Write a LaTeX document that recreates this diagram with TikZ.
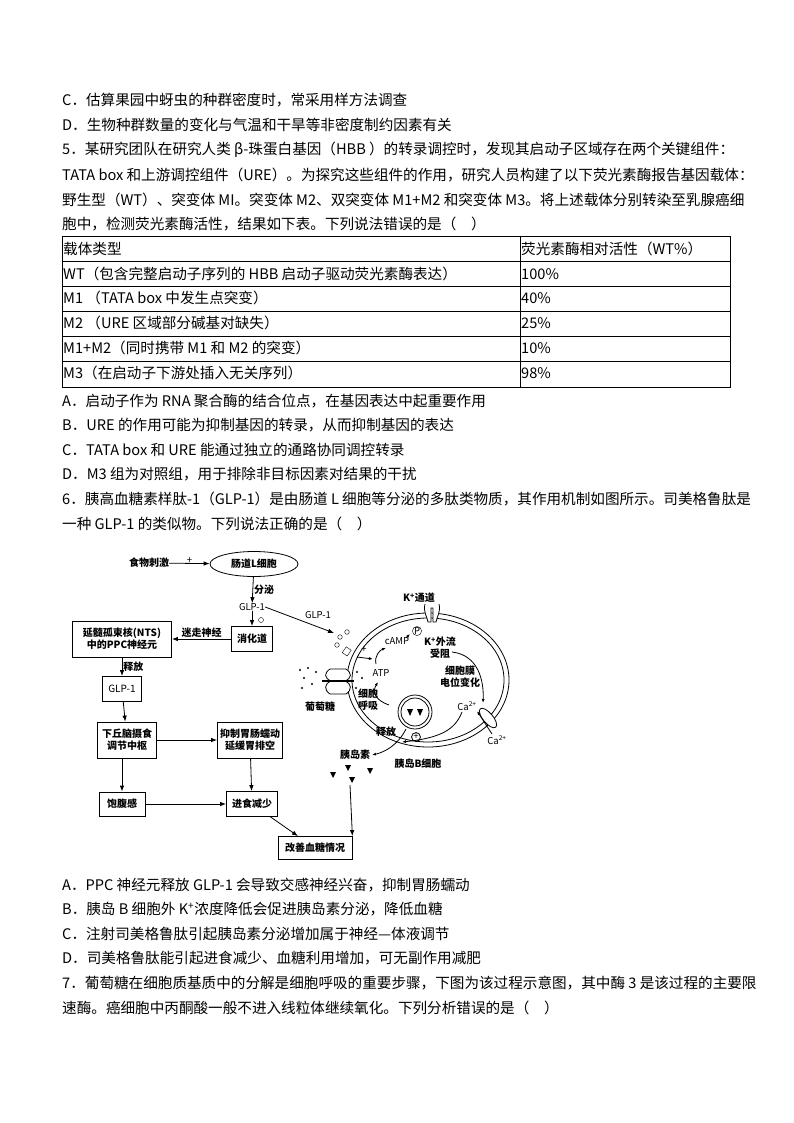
\documentclass[tikz,border=0pt]{standalone}
\usepackage{fontspec}
\setmainfont{Noto Sans CJK SC}
\usetikzlibrary{arrows.meta,shapes.geometric}
\begin{document}
\begin{tikzpicture}[x=1pt,y=-1pt,
  txt/.style={anchor=west,inner sep=0pt,font=\fontsize{14.6}{15}\selectfont},
  cell/.style={anchor=west,inner sep=0pt,font=\fontsize{14.6}{15}\selectfont},
  bx/.style={draw,thick,align=center,inner sep=2pt,font=\fontsize{10}{12}\selectfont\bfseries},
  lb/.style={inner sep=0pt,font=\fontsize{9.5}{11}\selectfont},
  lbb/.style={inner sep=0pt,align=center,font=\fontsize{10}{12}\selectfont\bfseries},
  arr/.style={-{Latex[length=6pt,width=4.5pt]},thick},
  sarr/.style={-{Latex[length=4pt,width=3pt]},thick}]
\useasboundingbox (0,0) rectangle (794,1123);
\fill[white] (0,0) rectangle (794,1123);
% text
\node[txt] (t1) at (62,100) {C．估算果园中蚜虫的种群密度时，常采用样方法调查};
\node[txt] (t2) at (62,125) {D．生物种群数量的变化与气温和干旱等非密度制约因素有关};
\node[txt] (t3) at (62,150) {5．某研究团队在研究人类 β-珠蛋白基因（HBB ）的转录调控时，发现其启动子区域存在两个关键组件：};
\node[txt] (t4) at (62,175) {TATA box 和上游调控组件（URE）。为探究这些组件的作用，研究人员构建了以下荧光素酶报告基因载体：};
\node[txt] (t5) at (62,200) {野生型（WT）、突变体 MI。突变体 M2、双突变体 M1+M2 和突变体 M3。将上述载体分别转染至乳腺癌细};
\node[txt] (t6) at (62,224) {胞中，检测荧光素酶活性，结果如下表。下列说法错误的是（\quad ）};
% table
\draw[thin] (62,236) rectangle (730,387);
\foreach \yy in {261,286,311,336,361} \draw[thin] (62,\yy) -- (730,\yy);
\draw[thin] (520,236) -- (520,387);
\node[cell] (r0a) at (63,249) {载体类型};
\node[cell] (r0b) at (521,249) {荧光素酶相对活性（WT\%）};
\node[cell] (r1a) at (63,274) {WT（包含完整启动子序列的 HBB 启动子驱动荧光素酶表达）};
\node[cell] (r1b) at (521,274) {100\%};
\node[cell] (r2a) at (63,298) {M1 （TATA box 中发生点突变）};
\node[cell] (r2b) at (521,298) {40\%};
\node[cell] (r3a) at (63,323) {M2 （URE 区域部分碱基对缺失）};
\node[cell] (r3b) at (521,323) {25\%};
\node[cell] (r4a) at (63,348) {M1+M2（同时携带 M1 和 M2 的突变）};
\node[cell] (r4b) at (521,348) {10\%};
\node[cell] (r5a) at (63,373) {M3（在启动子下游处插入无关序列）};
\node[cell] (r5b) at (521,373) {98\%};
\node[txt] (a1) at (62,401) {A．启动子作为 RNA 聚合酶的结合位点，在基因表达中起重要作用};
\node[txt] (a2) at (62,425) {B．URE 的作用可能为抑制基因的转录，从而抑制基因的表达};
\node[txt] (a3) at (62,450) {C．TATA box 和 URE 能通过独立的通路协同调控转录};
\node[txt] (a4) at (62,474) {D．M3 组为对照组，用于排除非目标因素对结果的干扰};
\node[txt] (q6) at (62,499) {6．胰高血糖素样肽-1（GLP-1）是由肠道 L 细胞等分泌的多肽类物质，其作用机制如图所示。司美格鲁肽是};
\node[txt] (q6b) at (62,524) {一种 GLP-1 的类似物。下列说法正确的是（\quad ）};
\node[txt] (b1) at (62,885) {A．PPC 神经元释放 GLP-1 会导致交感神经兴奋，抑制胃肠蠕动};
\node[txt] (b2) at (62,909) {B．胰岛 B 细胞外 K\textsuperscript{+}浓度降低会促进胰岛素分泌，降低血糖};
\node[txt] (b3) at (62,934) {C．注射司美格鲁肽引起胰岛素分泌增加属于神经—体液调节};
\node[txt] (b4) at (62,958) {D．司美格鲁肽能引起进食减少、血糖利用增加，可无副作用减肥};
\node[txt] (q7) at (62,983) {7．葡萄糖在细胞质基质中的分解是细胞呼吸的重要步骤，下图为该过程示意图，其中酶 3 是该过程的主要限};
\node[txt] (q7b) at (62,1008) {速酶。癌细胞中丙酮酸一般不进入线粒体继续氧化。下列分析错误的是（\quad ）};
% ===== diagram left =====
\node[lbb] (food) at (149,563) {食物刺激};
\node[draw,thick,ellipse,minimum width=88pt,minimum height=25pt,lbb] (Lc) at (254,564) {肠道L细胞};
\draw[arr] (food) -- node[lb,above=-1pt]{+} (Lc);
\node[lb] (glp) at (252,607) {GLP-1};
\draw[arr] (Lc) -- node[lbb,right=1pt]{分泌} (glp);
\node[bx,minimum width=41pt,minimum height=25pt] (dig) at (252,639) {消化道};
\draw[arr] (glp) -- (dig);
\draw (261,620) circle (2.5);
\node[bx,minimum width=99pt,minimum height=36pt] (nts) at (122,639) {延髓孤束核(NTS)\\中的PPC神经元};
\draw[arr] (dig) -- node[lbb,above=1pt]{迷走神经} (nts);
\node[bx,font=\fontsize{10}{12}\selectfont,minimum width=39pt,minimum height=25pt] (glp2) at (122,689) {GLP-1};
\draw[arr] (nts) -- node[lbb,right=1pt]{释放} (glp2);
\node[bx,minimum width=59pt,minimum height=36pt] (hyp) at (127,740) {下丘脑摄食\\调节中枢};
\draw[arr] (glp2) -- (hyp);
\node[bx,minimum width=65pt,minimum height=36pt] (inh) at (250,740) {抑制胃肠蠕动\\延缓胃排空};
\draw[arr] (hyp) -- (inh);
\node[bx,minimum width=46pt,minimum height=24pt] (sat) at (122,804) {饱腹感};
\draw[arr] (hyp.south -| sat) -- (sat);
\node[bx,minimum width=51pt,minimum height=25pt] (eat) at (252,804) {进食减少};
\draw[arr] (sat) -- (eat);
\draw[arr] (inh) -- (eat);
\node[bx,minimum width=74pt,minimum height=23pt] (imp) at (315,848) {改善血糖情况};
\draw[arr] (eat) -- (imp);
% ===== cell =====
\draw[thick] (428,680) ellipse (81 and 67);
\draw[thick] (428,680) ellipse (76 and 62);
\node[lb] (glpc) at (318,615) {GLP-1};
\coordinate (gend) at (334,633);
\draw[arr] (glp.east) -- (gend);
\foreach \p in {(340,637),(347,632),(337,645)} \draw \p circle (2.3);
\draw[rotate around={-35:(347,651)}] (344,648) rectangle (350,655);
% glucose transporter
\draw[thick,fill=white] (330,669) .. controls (324,673) and (324,678) .. (331,681) .. controls (324,684) and (324,690) .. (330,694) -- (346,694) .. controls (352,690) and (352,684) .. (345,681) .. controls (352,678) and (352,673) .. (346,669) -- cycle;
\draw[line width=2pt] (322,681) -- (354,681);
\foreach \p in {(300,670),(308,668),(316,672),(304,678),(312,684),(302,688),(357,672),(362,678),(356,688)} \fill \p circle (1.2);
\node[lbb] (glu) at (320,707) {葡萄糖};
\node[lbb] (resp) at (368,700) {细胞\\呼吸};
\node[lb] (atp) at (381,673) {ATP};
\node[lb] (camp) at (397,641) {cAMP};
\node[draw,circle,inner sep=0.8pt,lb] (P) at (417,631) {P};
\node[lb] (plus) at (364,650) {+};
\draw[sarr] (357,657) -- (373,659);
\draw[sarr] (389,705) .. controls (375,700) and (372,692) .. (378,682);
\draw[sarr] (376,664) .. controls (374,656) and (380,650) .. (386,648);
\draw[sarr] (406,638) -- (410,634);
% K channel
\draw[thick,fill=white] (425,604) .. controls (423,612) and (427,616) .. (428,622) -- (431,622) -- (431,608) -- (433,608) -- (433,622) -- (436,622) .. controls (437,616) and (441,612) .. (439,604);
\node[lbb] (kch) at (419,598) {K\textsuperscript{+}通道};
\node[lbb] (kout) at (440,648) {K\textsuperscript{+}外流\\受阻};
\node[lbb] (memb) at (460,677) {细胞膜\\电位变化};
\node[lb] (cain) at (467,706) {Ca\textsuperscript{2+}};
\draw[sarr] (452,652) .. controls (478,655) and (484,680) .. (483,703);
\draw[thick,fill=white,rotate around={-50:(488,718)}] (488,718) ellipse (12 and 5);
\node[lb] (caout) at (497,740) {Ca\textsuperscript{2+}};
\draw[sarr] (492,734) -- (477,711);
\draw[sarr] (462,712) .. controls (455,730) and (440,738) .. (402,742);
% vesicle
\draw[thick] (415,712) circle (17);
\draw[thick] (415,712) circle (14);
\fill (407,709) -- (413,709) -- (410,716) -- cycle;
\fill (417,709) -- (423,709) -- (420,716) -- cycle;
\node[draw,thick,circle,inner sep=0.5pt,font=\fontsize{9}{10}\selectfont] (vp) at (416,737) {+};
\node[lbb] (rel) at (386,732) {释放};
\node[lbb] (ins) at (355,755) {胰岛素};
\draw[sarr] (406,729) .. controls (398,745) and (385,752) .. (372,755);
\node[lbb] (bcell) at (418,764) {胰岛B细胞};
\foreach \xx/\yy in {333/775,348/768,352/780,370/771} \fill (\xx-3,\yy-3) -- (\xx+3,\yy-3) -- (\xx,\yy+3) -- cycle;
\coordinate (insd) at (350,785);
\draw[arr] (insd) -- (imp.north east);
\end{tikzpicture}
\end{document}
